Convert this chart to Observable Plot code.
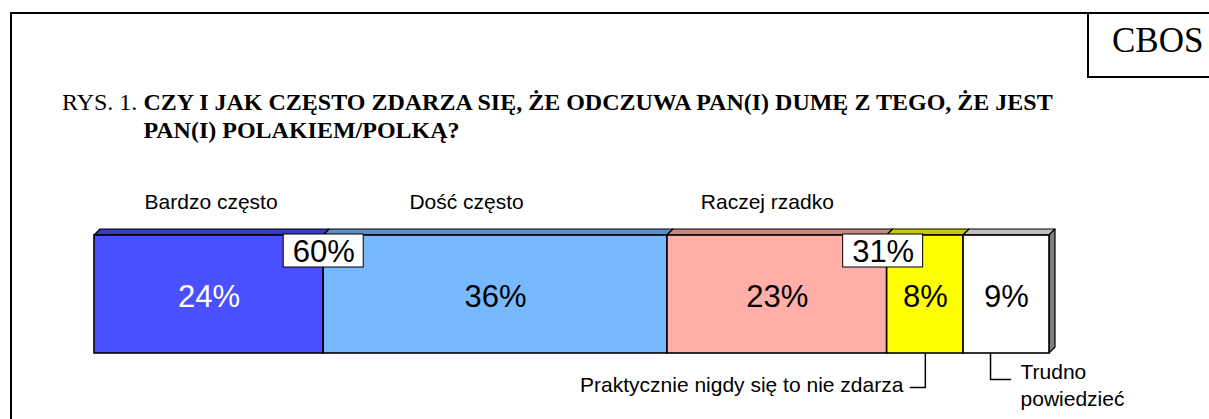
<!DOCTYPE html>
<html><head><meta charset="utf-8">
<script src="https://cdn.jsdelivr.net/npm/d3@7"></script>
<script src="https://cdn.jsdelivr.net/npm/@observablehq/plot@0.6"></script>
<style>
body{margin:0;background:#fff;}
#wrap{position:relative;width:1209px;height:419px;overflow:hidden;background:#fff;}
#chart{position:absolute;left:0;top:0;}
.frame{position:absolute;left:10px;top:12px;width:1300px;height:500px;border-left:2px solid #000;border-top:2px solid #000;}
.cbosbox{position:absolute;left:1087px;top:12px;width:200px;height:64px;border-left:2px solid #000;border-bottom:2px solid #000;}
.cbos{position:absolute;left:1112px;top:24px;font-family:"Liberation Serif","Times New Roman",serif;font-size:35px;line-height:34px;color:#000;white-space:nowrap;}
.title{position:absolute;left:62px;top:88px;font-family:"Liberation Serif","Times New Roman",serif;font-size:24px;line-height:28px;color:#000;display:flex;white-space:nowrap;}
.title b{font-weight:bold;}
</style></head>
<body>
<div id="wrap">
  <div id="chart"></div>
  <div class="frame"></div>
  <div class="cbosbox"></div>
  <div class="cbos">CBOS</div>
  <div class="title"><span>RYS. 1.&nbsp;</span><b>CZY I JAK CZĘSTO ZDARZA SIĘ, ŻE ODCZUWA PAN(I) DUMĘ Z TEGO, ŻE JEST<br>PAN(I) POLAKIEM/POLKĄ?</b></div>
</div>
<script>
// ---- data ----
const categories = ["Bardzo często", "Dość często", "Raczej rzadko", "Praktycznie nigdy się to nie zdarza", "Trudno powiedzieć"];
const values = [24, 36, 23, 8, 9];
const groupLabels = ["60%", "31%"];

// ---- styles ----
const frontColors = ["#4a50ff", "#78b8ff", "#ffaea8", "#ffff00", "#ffffff"];
const topColors = ["#3a3acc", "#5b8fc4", "#c8877f", "#c8c800", "#c0c0c0"];
const labelColors = ["#ffffff", "#000000", "#000000", "#000000", "#000000"];
const headerDx = [2, -29, -10];

// ---- layout ----
const W = 1209, H = 419;
const X0 = 94, X1 = 1049;
const barTop = 235, barBottom = 353, depth = 6;
const u = px => px * 100 / (X1 - X0);
const font = "Arial, 'Liberation Sans', sans-serif";

const starts = Array.from(d3.cumsum([0, ...values.slice(0, -1)]));
const segs = categories.map((c, i) => ({
  category: c, value: values[i], start: starts[i], end: starts[i] + values[i],
  mid: starts[i] + values[i] / 2, i
}));
const total = d3.sum(values);

const topPts = segs.flatMap(s => [
  {category: s.category, i: s.i, x1: s.start, x2: s.end, y: barTop},
  {category: s.category, i: s.i, x1: s.start + u(depth), x2: s.end + u(depth), y: barTop - depth}
]);
const sidePts = [
  {x: total, y1: barTop, y2: barBottom},
  {x: total + u(depth), y1: barTop - depth, y2: barBottom - depth}
];

const groups = [
  {label: groupLabels[0], at: segs[0].end},
  {label: groupLabels[1], at: segs[2].end - u(4)}
];

const s3 = segs[3], s4 = segs[4];
const ann1x = s3.mid;
const ann2x = s4.mid - u(16);
const ann1 = [{x: ann1x, y: barBottom}, {x: ann1x, y: 387}, {x: ann1x - u(15), y: 387}];
const ann2 = [{x: ann2x, y: barBottom}, {x: ann2x, y: 379}, {x: ann2x + u(20), y: 379}];

const chart = Plot.plot({
  width: W, height: H,
  marginLeft: X0, marginRight: W - X1, marginTop: 0, marginBottom: 0,
  style: {background: "transparent", overflow: "visible"},
  x: {domain: [0, 100], axis: null},
  y: {domain: [0, H], range: [0, H], axis: null},
  color: {type: "identity"},
  marks: [
    Plot.areaX(topPts, {x1: "x1", x2: "x2", y: "y", z: "category", fill: d => topColors[d.i], stroke: "#000", strokeWidth: 1.2}),
    Plot.areaY(sidePts, {x: "x", y1: "y1", y2: "y2", fill: "#808080", stroke: "#000", strokeWidth: 1.2}),
    Plot.rect(segs, {x1: "start", x2: "end", y1: barTop, y2: barBottom, fill: d => frontColors[d.i], stroke: "#000", strokeWidth: 1.6}),
    Plot.text(segs, {x: "mid", y: 297, text: d => d.value + "%", fill: d => labelColors[d.i], fontSize: 31, fontFamily: font}),
    Plot.rect(groups, {x1: d => d.at - u(40), x2: d => d.at + u(40), y1: barTop - 1, y2: barTop + 32, fill: "#fff", stroke: "#000", strokeWidth: 1}),
    Plot.text(groups, {x: "at", y: 252, text: "label", fill: "#000", fontSize: 31, fontFamily: font}),
    ...segs.slice(0, 3).map((s, i) =>
      Plot.text([s], {x: "mid", y: 201.5, text: "category", dx: headerDx[i], fill: "#000", fontSize: 21, fontFamily: font})),
    Plot.line(ann1, {x: "x", y: "y", stroke: "#000", strokeWidth: 1.5}),
    Plot.line(ann2, {x: "x", y: "y", stroke: "#000", strokeWidth: 1.5}),
    Plot.text([s3], {x: ann1x - u(22), y: 385, text: "category", textAnchor: "end", fill: "#000", fontSize: 21, fontFamily: font}),
    Plot.text([s4], {x: ann2x + u(30), y: 359, text: () => "Trudno\npowiedzieć", textAnchor: "start", lineAnchor: "top", lineHeight: 1.3, fill: "#000", fontSize: 21, fontFamily: font})
  ]
});
document.getElementById("chart").appendChild(chart);
</script>
</body></html>
